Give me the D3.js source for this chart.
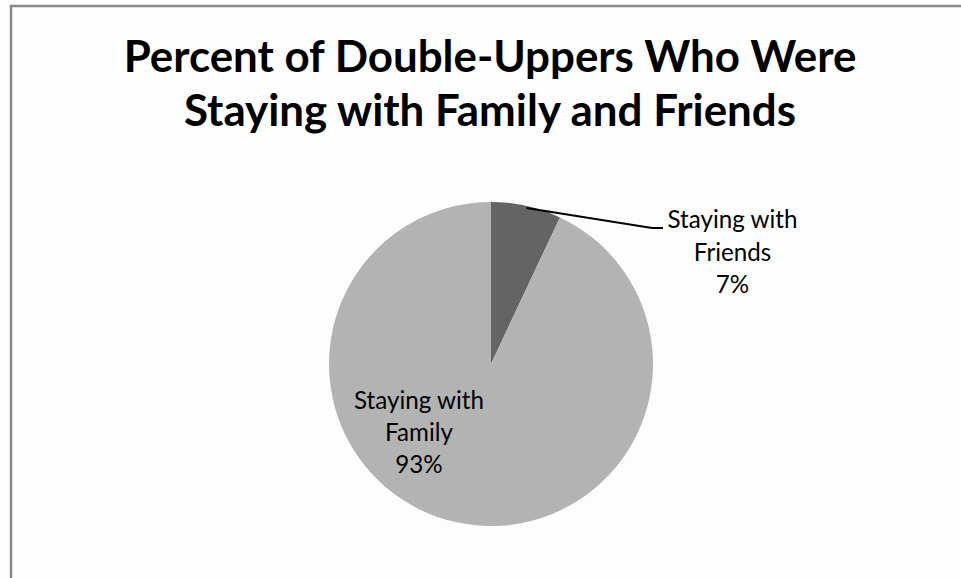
<!DOCTYPE html>
<html>
<head>
<meta charset="utf-8">
<script src="https://cdn.jsdelivr.net/npm/d3@7"></script>
<style>
  html, body { margin: 0; padding: 0; background: #fdfdfd; }
  svg { display: block; }
  text { font-family: Lato, "Open Sans", sans-serif; fill: #000; }
</style>
</head>
<body>
<svg id="chart" width="961" height="578"></svg>
<script>
// Chart data
const titleLines = ["Percent of Double-Uppers Who Were", "Staying with Family and Friends"];
const categories = ["Staying with Friends", "Staying with Family"];
const labelLines = [["Staying with", "Friends"], ["Staying with", "Family"]];
const values = [7, 93];
const colors = ["#646464", "#b3b3b3"];

const W = 961, H = 578;
const svg = d3.select("#chart");

svg.append("rect").attr("width", W).attr("height", H).attr("fill", "#fdfdfd");

// Chart frame (left and top edges visible)
svg.append("path")
  .attr("d", "M11,578 V6 H961")
  .attr("fill", "none")
  .attr("stroke", "#888")
  .attr("stroke-width", 2.5);

// Title: sized so the first line spans the intended width
const title = svg.append("g");
const titleBaselines = [72, 126];
const titleNodes = titleLines.map((t, i) =>
  title.append("text")
    .attr("x", 490)
    .attr("y", titleBaselines[i])
    .attr("text-anchor", "middle")
    .attr("font-weight", "bold")
    .attr("font-size", 40)
    .text(t));
const w0 = titleNodes[0].node().getComputedTextLength();
const titleSize = 40 * 733 / w0;
titleNodes.forEach(n => n.attr("font-size", titleSize));

// Pie
const cx = 491, cy = 364, r = 162;
const pie = d3.pie().sort(null).value(d => d)(values);
const arc = d3.arc().innerRadius(0).outerRadius(r);
const g = svg.append("g").attr("transform", `translate(${cx},${cy})`);
g.selectAll("path.slice")
  .data(pie)
  .join("path")
  .attr("class", "slice")
  .attr("d", arc)
  .attr("fill", (d, i) => colors[i]);

// Label font size fitted to the label width
const probe = svg.append("text").attr("font-size", 20).text("Staying with");
const labelSize = 20 * 130 / probe.node().getComputedTextLength();
probe.remove();

function drawLabel(lines, x, y0, lh) {
  const t = svg.append("g");
  lines.forEach((s, i) => {
    t.append("text")
      .attr("x", x)
      .attr("y", y0 + i * lh)
      .attr("text-anchor", "middle")
      .attr("font-size", labelSize)
      .text(s);
  });
}

// Friends slice: label outside with leader line from arc midpoint
const fr = pie[0];
const midA = (fr.startAngle + fr.endAngle) / 2;
const p0 = [cx + r * Math.sin(midA), cy - r * Math.cos(midA) + 2];
svg.append("polyline")
  .attr("points", [p0, [652, 228], [663, 228]].map(p => p.join(",")).join(" "))
  .attr("fill", "none")
  .attr("stroke", "#000")
  .attr("stroke-width", 2);
drawLabel([...labelLines[0], values[0] + "%"], 732.5, 228, 32.5);

// Family slice: label inside the slice
drawLabel([...labelLines[1], values[1] + "%"], 419, 409, 32);
</script>
</body>
</html>
